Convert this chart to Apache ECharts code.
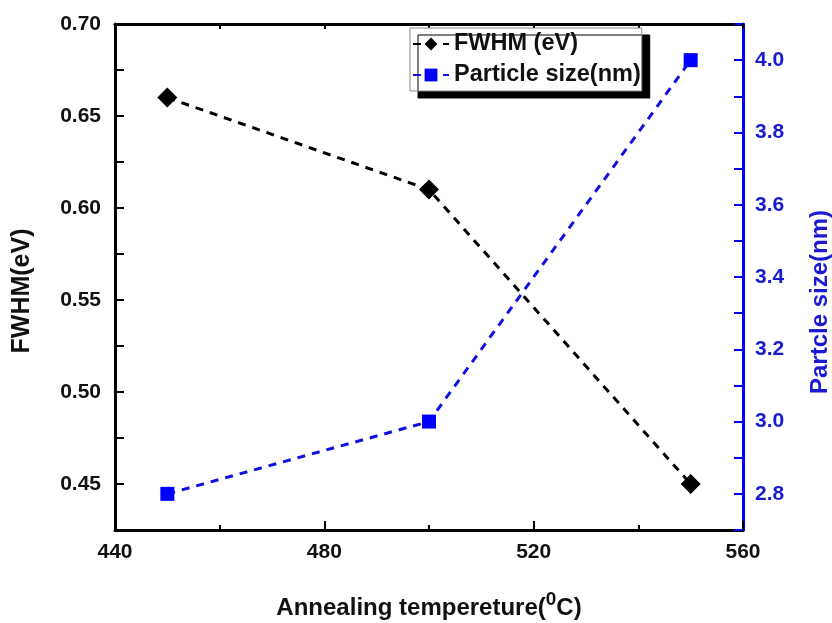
<!DOCTYPE html>
<html>
<head>
    <meta charset="utf-8">
    <title>FWHM and particle size</title>
    <script src="https://cdn.jsdelivr.net/npm/echarts@6/dist/echarts.min.js"></script>
    <style>
        body { margin: 0; background: #fff; }
        #main { width: 832px; height: 623px; }
    </style>
</head>
<body>
<div id="main"></div>
<script>
    // data
    var temps = [450, 500, 550];
    var fwhm = [0.66, 0.61, 0.45];
    var particleSize = [2.8, 3.0, 4.0];

    var font = '"Liberation Sans", Arial, sans-serif';
    var blue = '#0000ff';

    function pairs(xs, ys) {
        var out = [];
        for (var i = 0; i < xs.length; i++) out.push([xs[i], ys[i]]);
        return out;
    }

    var myChart = echarts.init(document.getElementById('main'));
    var option = {
        animation: false,
        backgroundColor: '#fff',
        textStyle: { fontFamily: font },
        grid: { left: 115, right: 89, top: 24, bottom: 93, outerBoundsMode: 'none' },
        legend: {
            orient: 'vertical',
            left: 410,
            top: 28,
            itemWidth: 36,
            itemHeight: 16,
            itemGap: 7,
            padding: [4, 1, 4, 2],
            backgroundColor: '#fff',
            borderColor: '#888',
            borderWidth: 1,
            shadowColor: '#000',
            shadowBlur: 0,
            shadowOffsetX: 8,
            shadowOffsetY: 7,
            textStyle: { fontFamily: font, fontSize: 23.5, fontWeight: 'bold', color: '#111' },
            data: ['FWHM (eV)', 'Particle size(nm)']
        },
        xAxis: [{
            type: 'value',
            min: 440, max: 560, interval: 40,
            name: 'Annealing tempereture({sup|0}C)',
            nameLocation: 'middle',
            nameGap: 60,
            nameTextStyle: {
                fontFamily: font, fontSize: 24, fontWeight: 'bold', color: '#111',
                rich: { sup: { fontFamily: font, fontSize: 19, fontWeight: 'bold', color: '#111', verticalAlign: 'bottom', padding: [0, 0, 17, 0] } }
            },
            axisLine: { onZero: false, lineStyle: { color: '#000', width: 3 } },
            axisTick: { inside: true, length: 9, lineStyle: { color: '#000', width: 2 } },
            minorTick: { show: true, splitNumber: 2, length: 5, lineStyle: { color: '#000', width: 2 } },
            axisLabel: { margin: 12, fontFamily: font, fontSize: 21, fontWeight: 'bold', color: '#111' },
            splitLine: { show: false }
        }, {
            type: 'value',
            position: 'top',
            min: 440, max: 560, interval: 40,
            axisLine: { onZero: false, lineStyle: { color: '#000', width: 3 } },
            axisTick: { inside: true, length: 5, lineStyle: { color: '#000', width: 2 } },
            minorTick: { show: true, splitNumber: 2, length: 5, lineStyle: { color: '#000', width: 2 } },
            axisLabel: { show: false },
            splitLine: { show: false }
        }],
        yAxis: [{
            type: 'value',
            position: 'left',
            min: 0.425, max: 0.70, interval: 0.025,
            name: 'FWHM(eV)',
            nameLocation: 'middle',
            nameGap: 80,
            nameTextStyle: { fontFamily: font, fontSize: 25, fontWeight: 'bold', color: '#111', padding: [0, 28, 0, 0] },
            axisLine: { onZero: false, lineStyle: { color: '#000', width: 3 } },
            axisTick: {
                inside: true, length: 9, lineStyle: { color: '#000', width: 2 },
                interval: function (idx, v) { return Math.round(v * 40) % 2 === 0; }
            },
            axisLabel: {
                margin: 14, fontFamily: font, fontSize: 21, fontWeight: 'bold', color: '#111',
                formatter: function (v) { return Math.round(v * 40) % 2 === 0 ? v.toFixed(2) : ''; }
            },
            splitLine: { show: false }
        }, {
            type: 'value',
            position: 'right',
            min: 2.7, max: 4.1, interval: 0.1,
            name: 'Partcle size(nm)',
            nameLocation: 'middle',
            nameGap: 65,
            nameRotate: 90,
            nameTextStyle: { fontFamily: font, fontSize: 24, fontWeight: 'bold', color: '#1a1ad0', padding: [0, 50, 0, 0] },
            axisLine: { onZero: false, lineStyle: { color: blue, width: 3 } },
            axisTick: {
                inside: true, length: 9, lineStyle: { color: blue, width: 2 },
                interval: function (idx, v) { return Math.round(v * 10) % 2 === 0; }
            },
            axisLabel: {
                margin: 12, fontFamily: font, fontSize: 21, fontWeight: 'bold', color: '#1a1ad0',
                formatter: function (v) { return Math.round(v * 10) % 2 === 0 ? v.toFixed(1) : ''; }
            },
            splitLine: { show: false }
        }, {
            // minor ticks on the left
            type: 'value',
            position: 'left',
            min: 0.425, max: 0.70, interval: 0.025,
            axisLine: { show: false },
            axisTick: { inside: true, length: 5, lineStyle: { color: '#000', width: 2 } },
            axisLabel: { show: false },
            splitLine: { show: false }
        }, {
            // minor ticks on the right
            type: 'value',
            position: 'right',
            min: 2.7, max: 4.1, interval: 0.1,
            axisLine: { show: false },
            axisTick: { inside: true, length: 5, lineStyle: { color: blue, width: 2 } },
            axisLabel: { show: false },
            splitLine: { show: false }
        }],
        series: [{
            name: 'FWHM (eV)',
            type: 'line',
            xAxisIndex: 0,
            yAxisIndex: 0,
            data: pairs(temps, fwhm),
            symbol: 'diamond',
            symbolSize: 20,
            itemStyle: { color: '#000' },
            lineStyle: { color: '#000', width: 3, type: [8, 7] },
            z: 3
        }, {
            name: 'Particle size(nm)',
            type: 'line',
            xAxisIndex: 0,
            yAxisIndex: 1,
            data: pairs(temps, particleSize),
            symbol: 'rect',
            symbolSize: 14,
            itemStyle: { color: blue },
            lineStyle: { color: '#1010e0', width: 3, type: [8, 7] },
            z: 3
        }]
    };
    myChart.setOption(option);
</script>
</body>
</html>
